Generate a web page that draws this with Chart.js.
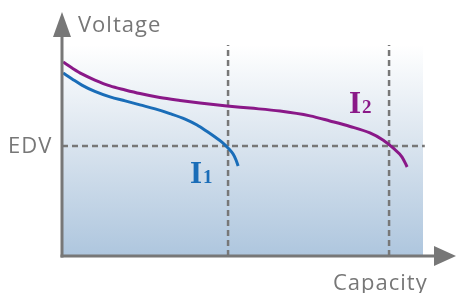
<!DOCTYPE html>
<html lang="en">
<head>
    <title>Voltage vs Capacity</title>
    <script src="https://cdn.jsdelivr.net/npm/chart.js"></script>
    <style>
        body { margin: 0; background: #fff; }
        #wrap { width: 456px; height: 293px; position: relative; }
    </style>
</head>
<body>
    <div id="wrap"><canvas id="myChart"></canvas></div>

    <script>
        // curve I1 (low capacity, blue)
        const capI1 = [0.3, 2.8, 5.5, 9.1, 13.3, 17.5, 21.6, 25.8, 29.9, 34.1, 37.4, 40.2, 42.4, 44.3, 46.0, 47.4, 48.2, 48.8];
        const voltI1 = [86.7, 83.9, 81.0, 78.0, 75.4, 73.5, 71.6, 69.7, 67.5, 64.9, 62.1, 59.0, 56.4, 54.0, 51.2, 48.3, 45.5, 42.7];
        // curve I2 (high capacity, purple)
        const capI2 = [0.3, 2.8, 5.5, 9.1, 13.3, 17.5, 21.6, 27.1, 32.7, 38.2, 45.7, 52.1, 60.4, 68.7, 74.2, 79.8, 85.3, 88.9, 91.7, 94.2, 95.6];
        const voltI2 = [91.9, 89.1, 86.3, 83.4, 80.6, 78.7, 77.0, 75.1, 73.7, 72.5, 71.1, 70.1, 68.7, 66.4, 64.0, 61.4, 58.3, 55.0, 51.2, 46.9, 42.2];
        // where each curve meets EDV, and the EDV level
        const endCapacity = [46.0, 90.6];
        const edvLevel = 52.1;

        const grey = '#777777';
        const blue = '#1a6db8';
        const purple = '#8a1888';

        const pts = (xs, ys) => xs.map((x, i) => ({ x: x, y: ys[i] }));

        const curve = (data, color) => ({
            data: data,
            borderColor: color,
            borderWidth: 3,
            pointRadius: 0,
            cubicInterpolationMode: 'monotone',
            fill: false
        });
        const dashed = (data) => ({
            data: data,
            borderColor: grey,
            borderWidth: 2.5,
            borderDash: [6, 4],
            pointRadius: 0,
            fill: false,
            clip: false
        });

        const backdrop = {
            id: 'backdrop',
            beforeDatasetsDraw(chart) {
                const { ctx, chartArea: a } = chart;
                const g = ctx.createLinearGradient(0, a.top, 0, a.bottom);
                g.addColorStop(0, '#ffffff');
                g.addColorStop(0.45, '#dbe5ef');
                g.addColorStop(1, '#aec6de');
                ctx.save();
                ctx.fillStyle = g;
                ctx.fillRect(a.left, a.top, a.right - a.left, a.bottom - a.top);
                ctx.restore();
            }
        };

        const axesAndText = {
            id: 'axesAndText',
            afterDraw(chart) {
                const { ctx, chartArea: a } = chart;
                ctx.save();
                ctx.strokeStyle = grey;
                ctx.fillStyle = grey;
                ctx.lineWidth = 3;
                // y axis
                ctx.beginPath();
                ctx.moveTo(a.left, a.bottom + 1.5);
                ctx.lineTo(a.left, 30);
                ctx.stroke();
                ctx.beginPath();
                ctx.moveTo(a.left, 12);
                ctx.lineTo(a.left - 9, 37);
                ctx.lineTo(a.left + 9, 37);
                ctx.closePath();
                ctx.fill();
                // x axis
                ctx.beginPath();
                ctx.moveTo(a.left - 1.5, a.bottom);
                ctx.lineTo(440, a.bottom);
                ctx.stroke();
                ctx.beginPath();
                ctx.moveTo(456, a.bottom);
                ctx.lineTo(434, a.bottom - 10);
                ctx.lineTo(434, a.bottom + 10);
                ctx.closePath();
                ctx.fill();

                ctx.font = '22px "Open Sans"';
                ctx.letterSpacing = '1px';
                ctx.textBaseline = 'alphabetic';
                ctx.fillText('Voltage', 78, 32);
                ctx.fillText('EDV', 8, 153);
                ctx.fillText('Capacity', 333, 290);
                ctx.letterSpacing = '0px';

                ctx.fillStyle = blue;
                ctx.font = 'bold 31px "Liberation Serif"';
                ctx.fillText('I', 190, 183);
                ctx.font = 'bold 19px "Liberation Serif"';
                ctx.fillText('1', 203, 183);

                ctx.fillStyle = purple;
                ctx.font = 'bold 31px "Liberation Serif"';
                ctx.fillText('I', 349, 113);
                ctx.font = 'bold 19px "Liberation Serif"';
                ctx.fillText('2', 362, 113);
                ctx.restore();
            }
        };

        const ctx = document.getElementById('myChart').getContext('2d');
        new Chart(ctx, {
            type: 'line',
            data: {
                datasets: [
                    curve(pts(capI1, voltI1), blue),
                    curve(pts(capI2, voltI2), purple),
                    dashed([{ x: endCapacity[0], y: 0 }, { x: endCapacity[0], y: 100 }]),
                    dashed([{ x: endCapacity[1], y: 0 }, { x: endCapacity[1], y: 100 }]),
                    dashed([{ x: 0, y: edvLevel }, { x: 100.5, y: edvLevel }])
                ]
            },
            options: {
                responsive: true,
                maintainAspectRatio: false,
                animation: false,
                layout: { padding: { left: 62, right: 33, top: 45, bottom: 37 } },
                scales: {
                    x: { type: 'linear', min: 0, max: 100, display: false },
                    y: { min: 0, max: 100, display: false }
                },
                plugins: {
                    legend: { display: false },
                    tooltip: { enabled: false }
                }
            },
            plugins: [backdrop, axesAndText]
        });
    </script>
</body>
</html>
